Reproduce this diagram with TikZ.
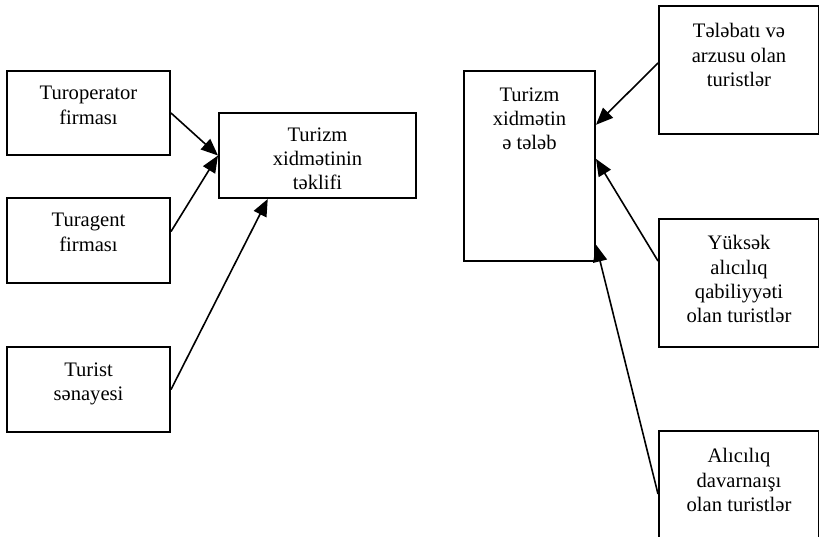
\documentclass[tikz,border=0pt]{standalone}
\usepackage{fontspec}
\setmainfont{Liberation Serif}
\usetikzlibrary{positioning,arrows.meta,calc}

\tikzset{
  box/.style={draw, line width=1pt, anchor=north west, inner sep=0pt},
  txt/.style={align=center, inner sep=0pt, font=\fontsize{10.3}{12.2}\selectfont},
  arr/.style={-{Triangle[length=8.5pt,width=7pt]}, line width=.8pt}
}

\begin{document}
\begin{tikzpicture}[x=0.5pt, y=-0.5pt]
  \useasboundingbox (0,0) rectangle (819,536);
  \clip (0,0) rectangle (819,536);

  % left side: supply
  \node[box, minimum width=81.5pt, minimum height=42pt] (oper) at (6,70) {};
  \node[txt, below=8pt of oper.north] (oper-t) {Turoperator\\firması};
  \node[box, minimum width=81.5pt, minimum height=42.5pt] (agent) at (6,197) {};
  \node[txt, below=8pt of agent.north] (agent-t) {Turagent\\firması};
  \node[box, minimum width=81.5pt, minimum height=42.5pt] (senaye) at (6,346) {};
  \node[txt, below=8pt of senaye.north] (senaye-t) {Turist\\sənayesi};
  \node[box, minimum width=98.5pt, minimum height=42.5pt] (teklif) at (218,112) {};
  \node[txt, below=7.5pt of teklif.north] (teklif-t) {Turizm\\xidmətinin\\təklifi};

  % right side: demand
  \node[box, minimum width=65.5pt, minimum height=95pt] (teleb) at (463,70) {};
  \node[txt, below=8.5pt of teleb.north] (teleb-t) {Turizm\\xidmətin\\ə tələb};
  \node[box, minimum width=80pt, minimum height=64pt] (telebat) at (658,5) {};
  \node[txt, below=9pt of telebat.north] (telebat-t) {Tələbatı və\\arzusu olan\\turistlər};
  \node[box, minimum width=80pt, minimum height=64pt] (yuksek) at (658,218) {};
  \node[txt, below=8.5pt of yuksek.north] (yuksek-t) {Yüksək\\alıcılıq\\qabiliyyəti\\olan turistlər};
  \node[box, minimum width=80pt, minimum height=63pt] (alici) at (658,430) {};
  \node[txt, below=9pt of alici.north] (alici-t) {Alıcılıq\\davarnaışı\\olan turistlər};

  \draw[arr] (oper.east) -- (teklif.west);
  \draw[arr] ([yshift=4.5pt]agent.east) -- (teklif.west);
  \draw[arr] (senaye.east) -- ($(teklif.south west)!.25!(teklif.south east)$);

  \draw[arr] ([yshift=3.5pt]telebat.west) -- ($(teleb.north east)!.285!(teleb.south east)$);
  \draw[arr] ([yshift=11pt]yuksek.west) -- ($(teleb.north east)!.463!(teleb.south east)$);
  \draw[arr] (alici.west) -- ($(teleb.north east)!.91!(teleb.south east)$);
\end{tikzpicture}
\end{document}
